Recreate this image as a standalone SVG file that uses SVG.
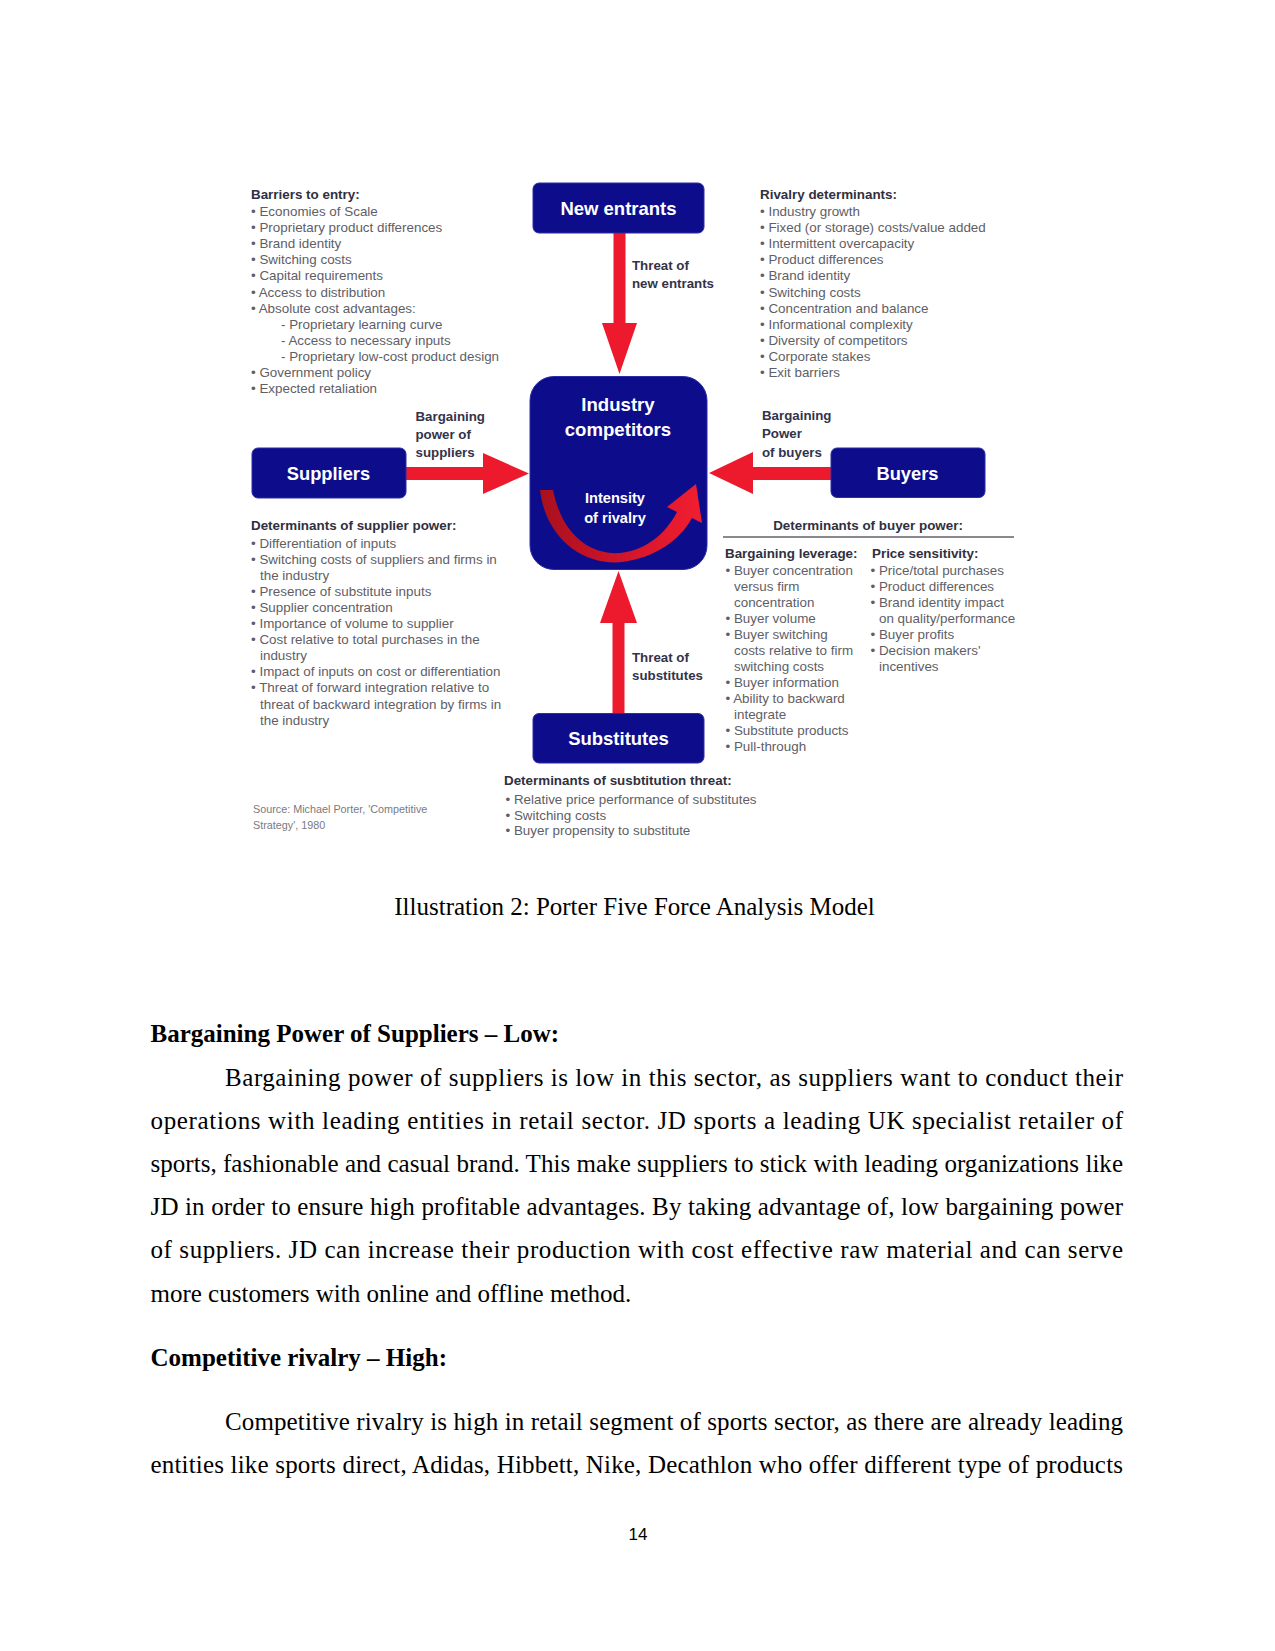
<svg xmlns="http://www.w3.org/2000/svg" width="1275" height="1651" viewBox="0 0 1275 1651">
<style>
.box{fill:#0d0d8c;stroke:#2c2ca6;stroke-width:1}
.bt{font-family:"Liberation Sans",Arial,sans-serif;font-weight:bold;fill:#ffffff;text-anchor:middle}
.arr{fill:#ec1a2c}
.lbl{font-family:"Liberation Sans",Arial,sans-serif;font-weight:bold;font-size:13.3px;fill:#33334a}
.hd{font-family:"Liberation Sans",Arial,sans-serif;font-weight:bold;font-size:13.4px;fill:#30303e}
.it{font-family:"Liberation Sans",Arial,sans-serif;font-size:13.4px;fill:#5e5e66}
.src{font-family:"Liberation Sans",Arial,sans-serif;font-size:10.8px;fill:#7a7a80}
.body{font-family:"Liberation Serif","Times New Roman",serif;font-size:25px;fill:#000}
.bb{font-family:"Liberation Serif","Times New Roman",serif;font-size:25px;font-weight:bold;fill:#000}
</style>
<defs>
<linearGradient id="rg" x1="0" y1="0" x2="1" y2="0">
<stop offset="0" stop-color="#a8101e"/>
<stop offset="0.5" stop-color="#d0152a"/>
<stop offset="1" stop-color="#f21e30"/>
</linearGradient>
</defs>
<rect width="1275" height="1651" fill="#ffffff"/>

<g id="connectors">
<polygon class="arr" points="613.5,233 625.5,233 625.5,323 637,323 619.5,374 602,323 613.5,323"/>
<polygon class="arr" points="618.5,571 637,623 624.5,623 624.5,714 612.5,714 612.5,623 600,623"/>
<polygon class="arr" points="406,467 483,467 483,453 529,473.5 483,494 483,480 406,480"/>
<polygon class="arr" points="831,467 753,467 753,452 709,473 753,494 753,480 831,480"/>
<text class="lbl"><tspan x="632" y="270">Threat of</tspan><tspan x="632" y="288">new entrants</tspan></text>
<text class="lbl"><tspan x="632" y="662">Threat of</tspan><tspan x="632" y="680">substitutes</tspan></text>
<text class="lbl"><tspan x="415.5" y="421">Bargaining</tspan><tspan x="415.5" y="439">power of</tspan><tspan x="415.5" y="457">suppliers</tspan></text>
<text class="lbl"><tspan x="762" y="420">Bargaining</tspan><tspan x="762" y="438">Power</tspan><tspan x="762" y="457">of buyers</tspan></text>
</g>

<g id="new-entrants">
<rect class="box" x="533" y="183" width="171" height="50" rx="6"/>
<text class="bt" x="618.5" y="215" font-size="18.5">New entrants</text>
</g>

<g id="industry-competitors">
<rect class="box" x="530" y="376.5" width="177" height="193" rx="24"/>
<text class="bt" x="618" y="411" font-size="18.6">Industry</text>
<text class="bt" x="618" y="436" font-size="18.6">competitors</text>
<path fill="url(#rg)" d="M540 490 C546 540 585 566 622 562 C655 558 680 540 692 518 L702 523 L696 484 L667 507 L677 512 C666 533 647 550 620 553 C590 555 562 535 553 490 Z"/>
<text class="bt" x="615" y="503" font-size="14.6">Intensity</text>
<text class="bt" x="615" y="523" font-size="14.6">of rivalry</text>
</g>

<g id="suppliers">
<rect class="box" x="252" y="448" width="154" height="50" rx="6"/>
<text class="bt" x="328.5" y="480" font-size="18.3">Suppliers</text>
</g>

<g id="buyers">
<rect class="box" x="831" y="448" width="154" height="49.5" rx="6"/>
<text class="bt" x="907.5" y="479.5" font-size="18.3">Buyers</text>
</g>

<g id="substitutes">
<rect class="box" x="533" y="713.5" width="171" height="49.5" rx="6"/>
<text class="bt" x="618.5" y="745" font-size="18.5">Substitutes</text>
</g>

<g id="barriers-to-entry">
<text class="hd" x="251" y="199">Barriers to entry:</text>
<text class="it">
<tspan x="251" y="216">• Economies of Scale</tspan>
<tspan x="251" y="232.1">• Proprietary product differences</tspan>
<tspan x="251" y="248.2">• Brand identity</tspan>
<tspan x="251" y="264.3">• Switching costs</tspan>
<tspan x="251" y="280.4">• Capital requirements</tspan>
<tspan x="251" y="296.5">• Access to distribution</tspan>
<tspan x="251" y="312.6">• Absolute cost advantages:</tspan>
<tspan x="281" y="328.7">- Proprietary learning curve</tspan>
<tspan x="281" y="344.8">- Access to necessary inputs</tspan>
<tspan x="281" y="360.9">- Proprietary low-cost product design</tspan>
<tspan x="251" y="377">• Government policy</tspan>
<tspan x="251" y="393.1">• Expected retaliation</tspan>
</text>
</g>

<g id="rivalry-determinants">
<text class="hd" x="760" y="199">Rivalry determinants:</text>
<text class="it">
<tspan x="760" y="216">• Industry growth</tspan>
<tspan x="760" y="232.1">• Fixed (or storage) costs/value added</tspan>
<tspan x="760" y="248.2">• Intermittent overcapacity</tspan>
<tspan x="760" y="264.3">• Product differences</tspan>
<tspan x="760" y="280.4">• Brand identity</tspan>
<tspan x="760" y="296.5">• Switching costs</tspan>
<tspan x="760" y="312.6">• Concentration and balance</tspan>
<tspan x="760" y="328.7">• Informational complexity</tspan>
<tspan x="760" y="344.8">• Diversity of competitors</tspan>
<tspan x="760" y="360.9">• Corporate stakes</tspan>
<tspan x="760" y="377">• Exit barriers</tspan>
</text>
</g>

<g id="supplier-power">
<text class="hd" x="251" y="529.5">Determinants of supplier power:</text>
<text class="it">
<tspan x="251" y="547.5">• Differentiation of inputs</tspan>
<tspan x="251" y="563.6">• Switching costs of suppliers and firms in</tspan>
<tspan x="260" y="579.7">the industry</tspan>
<tspan x="251" y="595.8">• Presence of substitute inputs</tspan>
<tspan x="251" y="611.9">• Supplier concentration</tspan>
<tspan x="251" y="628">• Importance of volume to supplier</tspan>
<tspan x="251" y="644.1">• Cost relative to total purchases in the</tspan>
<tspan x="260" y="660.2">industry</tspan>
<tspan x="251" y="676.3">• Impact of inputs on cost or differentiation</tspan>
<tspan x="251" y="692.4">• Threat of forward integration relative to</tspan>
<tspan x="260" y="708.5">threat of backward integration by firms in</tspan>
<tspan x="260" y="724.6">the industry</tspan>
</text>
</g>

<g id="buyer-power">
<text class="hd" x="868" y="530" text-anchor="middle">Determinants of buyer power:</text>
<line x1="723" y1="537" x2="1014" y2="537" stroke="#8a8a8e" stroke-width="2"/>
<text class="hd" x="725" y="557.5">Bargaining leverage:</text>
<text class="it">
<tspan x="725.5" y="575">• Buyer concentration</tspan>
<tspan x="734" y="591">versus firm</tspan>
<tspan x="734" y="607">concentration</tspan>
<tspan x="725.5" y="623">• Buyer volume</tspan>
<tspan x="725.5" y="639">• Buyer switching</tspan>
<tspan x="734" y="655">costs relative to firm</tspan>
<tspan x="734" y="671">switching costs</tspan>
<tspan x="725.5" y="687">• Buyer information</tspan>
<tspan x="725.5" y="703">• Ability to backward</tspan>
<tspan x="734" y="719">integrate</tspan>
<tspan x="725.5" y="735">• Substitute products</tspan>
<tspan x="725.5" y="751">• Pull-through</tspan>
</text>
<text class="hd" x="872" y="557.5">Price sensitivity:</text>
<text class="it">
<tspan x="870.5" y="575">• Price/total purchases</tspan>
<tspan x="870.5" y="591">• Product differences</tspan>
<tspan x="870.5" y="607">• Brand identity impact</tspan>
<tspan x="879" y="623">on quality/performance</tspan>
<tspan x="870.5" y="639">• Buyer profits</tspan>
<tspan x="870.5" y="655">• Decision makers'</tspan>
<tspan x="879" y="671">incentives</tspan>
</text>
</g>

<g id="substitution-threat">
<text class="hd" x="504" y="785">Determinants of susbtitution threat:</text>
<text class="it">
<tspan x="505.5" y="804">• Relative price performance of substitutes</tspan>
<tspan x="505.5" y="819.5">• Switching costs</tspan>
<tspan x="505.5" y="835">• Buyer propensity to substitute</tspan>
</text>
</g>

<g id="source">
<text class="src"><tspan x="253" y="813">Source: Michael Porter, 'Competitive</tspan><tspan x="253" y="829">Strategy', 1980</tspan></text>
</g>

<g id="page-text">
<text class="body" x="634.5" y="915" text-anchor="middle">Illustration 2: Porter Five Force Analysis Model</text>
<text class="bb" x="150.5" y="1042">Bargaining Power of Suppliers – Low:</text>
<text class="body" x="225" y="1085.5" textLength="898" lengthAdjust="spacing">Bargaining power of suppliers is low in this sector, as suppliers want to conduct their</text>
<text class="body" x="150.5" y="1128.7" textLength="972.5" lengthAdjust="spacing">operations with leading entities in retail sector. JD sports a leading UK specialist retailer of</text>
<text class="body" x="150.5" y="1171.9" textLength="972.5" lengthAdjust="spacing">sports, fashionable and casual brand. This make suppliers to stick with leading organizations like</text>
<text class="body" x="150.5" y="1215.1" textLength="972.5" lengthAdjust="spacing">JD in order to ensure high profitable advantages. By taking advantage of, low bargaining power</text>
<text class="body" x="150.5" y="1258.3" textLength="972.5" lengthAdjust="spacing">of suppliers. JD can increase their production with cost effective raw material and can serve</text>
<text class="body" x="150.5" y="1301.5">more customers with online and offline method.</text>
<text class="bb" x="150.5" y="1365.5">Competitive rivalry – High:</text>
<text class="body" x="225" y="1429.7" textLength="898" lengthAdjust="spacing">Competitive rivalry is high in retail segment of sports sector, as there are already leading</text>
<text class="body" x="150.5" y="1472.9" textLength="972.5" lengthAdjust="spacing">entities like sports direct, Adidas, Hibbett, Nike, Decathlon who offer different type of products</text>
<text x="638" y="1540" text-anchor="middle" font-family="'Liberation Sans',Arial,sans-serif" font-size="17" fill="#000">14</text>
</g>
</svg>
